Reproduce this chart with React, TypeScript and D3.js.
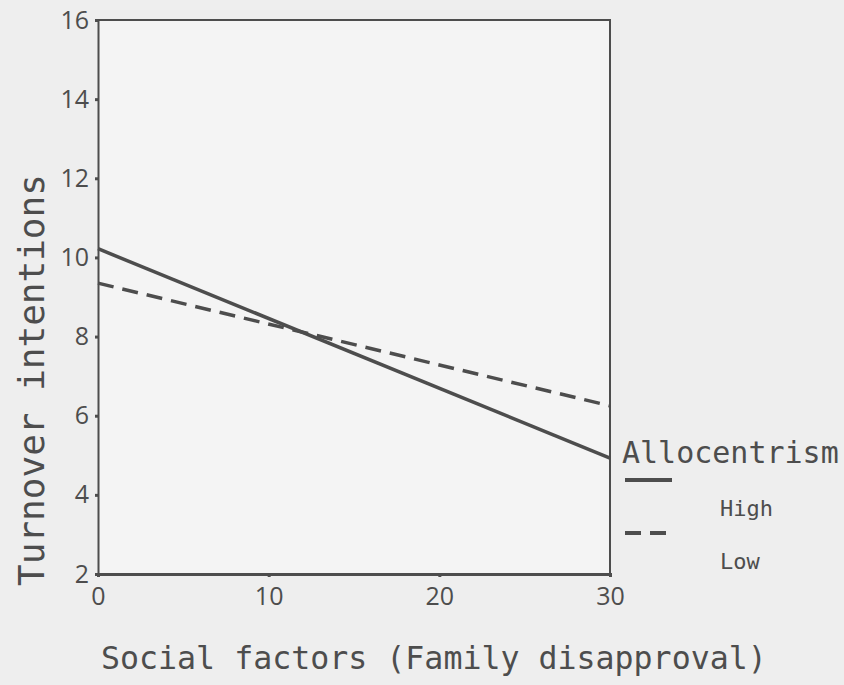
import { useEffect, useRef } from "react";
import * as d3 from "d3";

const xTicks = [0, 10, 20, 30];
const yTicks = [2, 4, 6, 8, 10, 12, 14, 16];
const disapproval = [0, 30];
const highValues = [10.22, 4.93];
const lowValues = [9.35, 6.25];
const groups = ["High", "Low"];

const W = 844;
const H = 685;
const ink = "#4d4d4d";
const mono = "'DejaVu Sans Mono', monospace";
const sans = "'Open Sans', 'Liberation Sans', sans-serif";

export default function App() {
  const ref = useRef<SVGSVGElement>(null);

  useEffect(() => {
    const svg = d3.select(ref.current);
    svg.selectAll("*").remove();

    const margin = { top: 20, right: 234, bottom: 111, left: 98 };

    const x = d3.scaleLinear().domain([0, 30]).range([margin.left, W - margin.right]);
    const y = d3.scaleLinear().domain([2, 16]).range([H - margin.bottom, margin.top]);

    svg.append("rect").attr("width", W).attr("height", H).attr("fill", "#eeeeee");
    svg
      .append("rect")
      .attr("x", x(0))
      .attr("y", y(16))
      .attr("width", x(30) - x(0))
      .attr("height", y(2) - y(16))
      .attr("fill", "#f4f4f4");

    // Rahmen oben/rechts
    svg
      .append("path")
      .attr("d", `M${x(0)},${y(16)}H${x(30)}V${y(2)}`)
      .attr("fill", "none")
      .attr("stroke", ink)
      .attr("stroke-width", 2);

    const yAxis = svg
      .append("g")
      .attr("transform", `translate(${x(0)},0)`)
      .call(d3.axisLeft(y).tickValues(yTicks).tickSize(3).tickPadding(6));
    yAxis.select(".domain").attr("stroke", ink).attr("stroke-width", 2);
    yAxis.selectAll("line").attr("stroke", ink).attr("stroke-width", 3);
    yAxis
      .selectAll("text")
      .attr("fill", ink)
      .style("font-family", sans)
      .style("font-size", "25px");

    const xAxis = svg
      .append("g")
      .attr("transform", `translate(0,${y(2)})`)
      .call(d3.axisBottom(x).tickValues(xTicks).tickSize(3).tickPadding(10));
    xAxis.select(".domain").attr("stroke", ink).attr("stroke-width", 3);
    xAxis.selectAll("line").attr("stroke", ink).attr("stroke-width", 3);
    xAxis
      .selectAll("text")
      .attr("fill", ink)
      .style("font-family", sans)
      .style("font-size", "25px");

    const line = d3
      .line<number>()
      .x((_, i) => x(disapproval[i]))
      .y((d) => y(d));

    svg
      .append("path")
      .datum(highValues)
      .attr("fill", "none")
      .attr("stroke", ink)
      .attr("stroke-width", 3.5)
      .attr("d", line);

    svg
      .append("path")
      .datum(lowValues)
      .attr("fill", "none")
      .attr("stroke", ink)
      .attr("stroke-width", 3.5)
      .attr("stroke-dasharray", "16,9")
      .attr("d", line);

    // Achsentitel
    svg
      .append("text")
      .attr("x", 101)
      .attr("y", 669)
      .attr("fill", ink)
      .style("font-family", mono)
      .style("font-size", "31.6px")
      .text("Social factors (Family disapproval)");

    svg
      .append("text")
      .attr("transform", `translate(44,380) rotate(-90)`)
      .attr("text-anchor", "middle")
      .attr("fill", ink)
      .style("font-family", mono)
      .style("font-size", "36px")
      .text("Turnover intentions");

    // Legende
    const lg = svg.append("g").attr("transform", "translate(622,0)");
    lg.append("text")
      .attr("x", 0)
      .attr("y", 463)
      .attr("fill", ink)
      .style("font-family", mono)
      .style("font-size", "30px")
      .text("Allocentrism");

    groups.forEach((g, i) => {
      const ly = 480 + i * 53;
      lg.append("line")
        .attr("x1", 3)
        .attr("x2", 50)
        .attr("y1", ly)
        .attr("y2", ly)
        .attr("stroke", ink)
        .attr("stroke-width", 4)
        .attr("stroke-dasharray", i === 1 ? "16,9" : null);
      lg.append("text")
        .attr("x", 98)
        .attr("y", ly + 36)
        .attr("fill", ink)
        .style("font-family", mono)
        .style("font-size", "22px")
        .text(g);
    });
  }, []);

  return (
    <svg
      ref={ref}
      width={W}
      height={H}
      style={{ position: "absolute", left: 0, top: 0, display: "block" }}
    />
  );
}
